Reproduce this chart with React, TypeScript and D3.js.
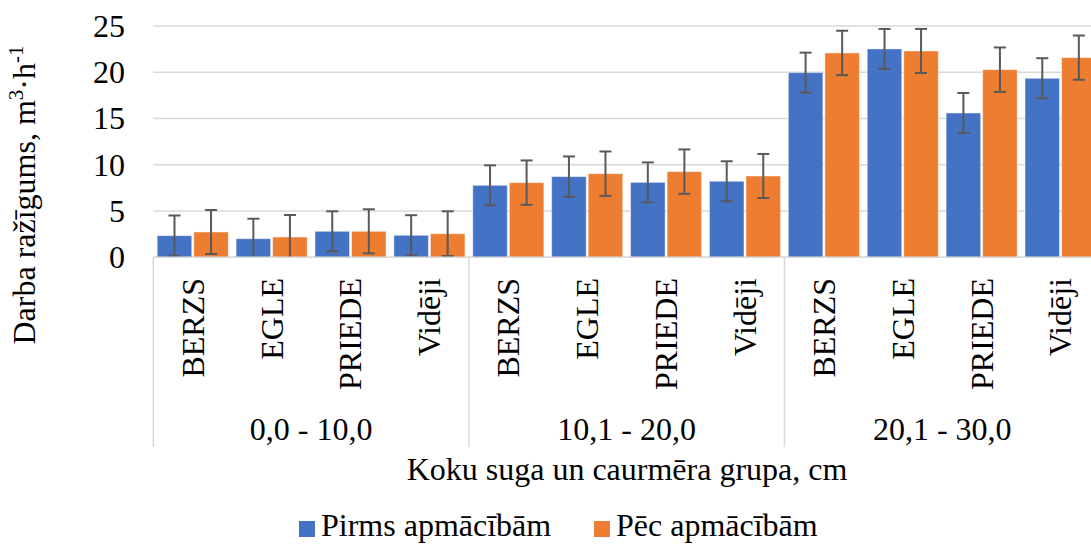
import * as d3 from "d3";

const groups = ["0,0 - 10,0", "10,1 - 20,0", "20,1 - 30,0"];
const species = ["BERZS", "EGLE", "PRIEDE", "Vidēji"];
const seriesNames = ["Pirms apmācībām", "Pēc apmācībām"];
const colors = ["#4472C4", "#ED7D31"];

// values by group, then species
const pirms = [2.34, 2.01, 2.81, 2.38, 7.78, 8.72, 8.1, 8.22, 19.96, 22.52, 15.6, 19.35];
const pec = [2.74, 2.19, 2.81, 2.55, 8.07, 9.04, 9.26, 8.79, 22.09, 22.3, 20.28, 21.58];
const pirmsErr = [2.17, 2.16, 2.16, 2.17, 2.16, 2.18, 2.16, 2.16, 2.16, 2.16, 2.16, 2.17];
const pecErr = [2.37, 2.38, 2.38, 2.42, 2.4, 2.4, 2.4, 2.38, 2.4, 2.38, 2.4, 2.39];
const yTicks = [0, 5, 10, 15, 20, 25];

const W = 1091;
const H = 544;
const left = 153.3;
const right = 1100;
const top = 26;
const base = 257.3;
const font = '"Liberation Serif", "Times New Roman", serif';
const fs = 32;

const keys = groups.flatMap((g) => species.map((s) => `${g}|${s}`));

export default function App() {
  const x0 = d3.scaleBand<string>().domain(keys).range([left, right]);
  const x1 = d3
    .scaleBand<number>()
    .domain([0, 1])
    .range([0, x0.step()])
    .paddingInner(0.055)
    .paddingOuter(0.107);
  const y = d3.scaleLinear().domain([0, 25]).range([base, top]);
  const gx = d3.scaleBand<string>().domain(groups).range([left, right]);

  const series = [
    { vals: pirms, errs: pirmsErr },
    { vals: pec, errs: pecErr },
  ];

  return (
    <svg
      width={W}
      height={H}
      style={{ position: "absolute", left: 0, top: 0, background: "#fff", fontFamily: font }}
    >
      <defs>
        <clipPath id="plot">
          <rect x={left} y={0} width={W - left} height={base} />
        </clipPath>
      </defs>

      {/* gridlines */}
      {yTicks.map((t) => (
        <line
          key={t}
          x1={left}
          x2={W}
          y1={y(t)}
          y2={y(t)}
          stroke="#d9d9d9"
          strokeWidth={1.5}
        />
      ))}
      {yTicks.map((t) => (
        <text
          key={"t" + t}
          x={125}
          y={y(t)}
          dy="0.34em"
          textAnchor="end"
          fontSize={fs}
          fill="#000"
        >
          {t}
        </text>
      ))}

      {/* bars */}
      <g clipPath="url(#plot)">
        {series.map((s, si) =>
          keys.map((k, i) => {
            const bx = (x0(k) ?? 0) + (x1(si) ?? 0);
            return (
              <rect
                key={`${si}-${k}`}
                x={bx}
                y={y(s.vals[i])}
                width={x1.bandwidth()}
                height={base - y(s.vals[i])}
                fill={colors[si]}
                stroke="#fff"
                strokeOpacity={0.45}
                strokeWidth={1}
              />
            );
          })
        )}
        {series.map((s, si) =>
          keys.map((k, i) => {
            const cx = (x0(k) ?? 0) + (x1(si) ?? 0) + x1.bandwidth() / 2;
            const hi = y(s.vals[i] + s.errs[i]);
            const lo = y(s.vals[i] - s.errs[i]);
            return (
              <g key={`e${si}-${k}`} stroke="#595959" strokeWidth={2}>
                <line x1={cx} x2={cx} y1={hi} y2={lo} />
                <line x1={cx - 6} x2={cx + 6} y1={hi} y2={hi} />
                <line x1={cx - 6} x2={cx + 6} y1={lo} y2={lo} />
              </g>
            );
          })
        )}
      </g>

      {/* axis line */}
      <line x1={left} x2={W} y1={base} y2={base} stroke="#d9d9d9" strokeWidth={1.5} />
      {groups.map((g) => (
        <line
          key={"sep" + g}
          x1={gx(g)}
          x2={gx(g)}
          y1={base}
          y2={447}
          stroke="#d9d9d9"
          strokeWidth={1.5}
        />
      ))}

      {/* category labels */}
      {keys.map((k) => {
        const cx = (x0(k) ?? 0) + x0.bandwidth() / 2;
        return (
          <text
            key={"c" + k}
            transform={`translate(${cx},278) rotate(-90)`}
            dy="0.34em"
            textAnchor="end"
            fontSize={fs}
          >
            {k.split("|")[1]}
          </text>
        );
      })}
      {groups.map((g) => (
        <text
          key={"g" + g}
          x={(gx(g) ?? 0) + gx.bandwidth() / 2}
          y={440}
          textAnchor="middle"
          fontSize={fs}
        >
          {g}
        </text>
      ))}

      {/* axis titles */}
      <text x={627} y={480} textAnchor="middle" fontSize={fs}>
        Koku suga un caurmēra grupa, cm
      </text>
      <text
        transform="translate(35,195) rotate(-90)"
        textAnchor="middle"
        fontSize={fs}
      >
        Darba ražīgums, m
        <tspan fontSize={21} dy={-12}>
          3
        </tspan>
        <tspan dy={12}>·h</tspan>
        <tspan fontSize={21} dy={-12}>
          -1
        </tspan>
      </text>

      {/* legend */}
      {seriesNames.map((n, i) => {
        const lx = [299, 594][i];
        return (
          <g key={n}>
            <rect x={lx} y={521} width={16} height={16} fill={colors[i]} />
            <text x={lx + 22} y={536} fontSize={fs}>
              {n}
            </text>
          </g>
        );
      })}
    </svg>
  );
}
